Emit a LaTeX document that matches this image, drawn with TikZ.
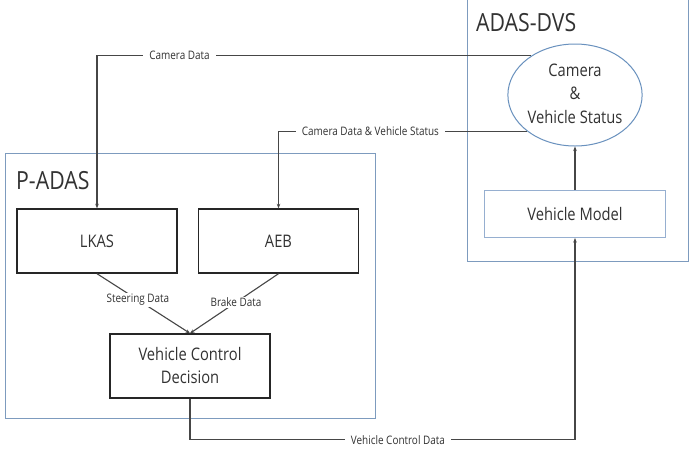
\documentclass[tikz,border=0pt]{standalone}
\usepackage{fontspec}
\setmainfont[FakeStretch=0.85]{Open Sans}
\usetikzlibrary{shapes.geometric,arrows.meta}
\definecolor{grp}{RGB}{125,155,190}
\definecolor{circ}{RGB}{105,145,190}
\definecolor{vmb}{RGB}{150,175,208}
\definecolor{txt}{RGB}{50,50,50}
\definecolor{ln}{RGB}{70,70,70}
\tikzset{
  grpbox/.style={draw=grp, line width=0.9pt},
  title/.style={anchor=west, inner sep=0, text=txt, font=\fontsize{25}{28}\selectfont},
  blk/.style={draw=black!85, line width=1.4pt, minimum width=160pt, minimum height=64pt, inner sep=0, text=txt, font=\fontsize{17.3}{23}\selectfont, align=center},
  conn/.style={draw=ln, line width=1.1pt, -{Stealth[length=4.5pt,width=3.5pt]}},
  lbl/.style={fill=white, inner xsep=6pt, inner ysep=1pt, text=txt, font=\fontsize{11.7}{13}\selectfont}
}
\begin{document}
\begin{tikzpicture}[x=1pt,y=-1pt]
\useasboundingbox[fill=white] (0,0) rectangle (690,448);
% groups
\draw[grpbox] (467,-5) rectangle (688,261);
\node[title] (dvst) at (476,23) {ADAS-DVS};
\draw[grpbox] (5,153) rectangle (375,418);
\node[title] (padast) at (16,181) {P-ADAS};
% nodes
\node[ellipse, draw=circ, line width=1pt, minimum width=112pt, minimum height=102pt, inner sep=0, text=txt, font=\fontsize{17.3}{23.5}\selectfont] (circ) at (575,95) {\raisebox{3pt}{\begin{tabular}{@{}c@{}}Camera\\\&\\Vehicle Status\end{tabular}}};
\node[draw=vmb, line width=1pt, minimum width=181pt, minimum height=47pt, inner sep=0, text=txt, font=\fontsize{17.3}{20}\selectfont] (vm) at (575,214) {Vehicle Model};
\node[blk] (lkas) at (97,241) {LKAS};
\node[blk] (aeb) at (278.5,241) {AEB};
\node[blk] (vcd) at (190,366) {Vehicle Control\\Decision};
% connectors
\draw[conn] (circ.138) -| node[lbl, pos=0.405] {Camera Data} (lkas.north);
\draw[conn] (circ.217.5) -| node[lbl, pos=0.315] {Camera Data \& Vehicle Status} (aeb.north);
\draw[conn] (vm.north) -- (circ.south);
\draw[conn] (lkas.south) -- node[lbl, pos=0.44, inner xsep=2pt] {Steering Data} (vcd.north);
\draw[conn] (aeb.south) -- node[lbl, pos=0.48, inner xsep=2pt] {Brake Data} (vcd.north);
\draw[conn] (vcd.south) -- ++(0,41) -| node[lbl, pos=0.27, inner ysep=0pt] {Vehicle Control Data} (vm.south);
\end{tikzpicture}
\end{document}
